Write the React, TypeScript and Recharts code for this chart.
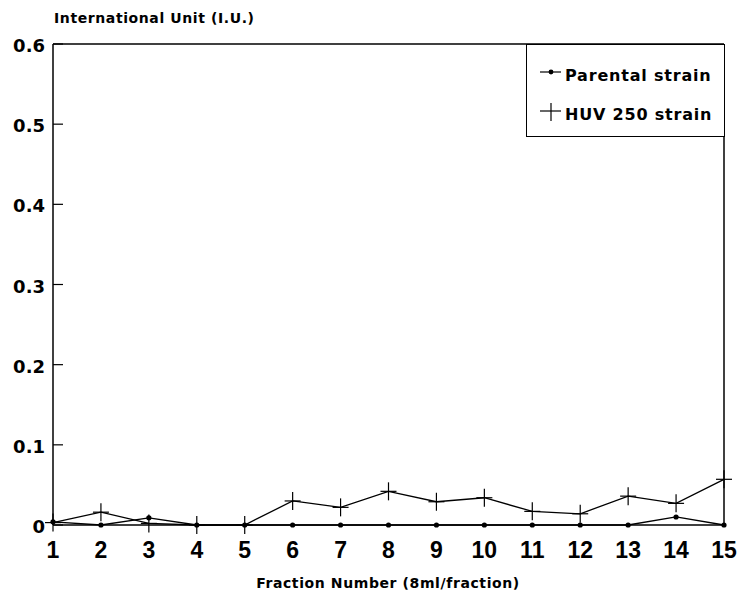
import React from "react";
import { LineChart, Line, XAxis, YAxis, ReferenceLine, Legend } from "recharts";

const fractions = [1, 2, 3, 4, 5, 6, 7, 8, 9, 10, 11, 12, 13, 14, 15];
const parental = [0.004, 0, 0.009, 0, 0, 0, 0, 0, 0, 0, 0, 0, 0, 0.01, 0];
const huv = [0.003, 0.016, 0.002, 0, 0, 0.03, 0.022, 0.042, 0.029, 0.034, 0.017, 0.014, 0.036, 0.027, 0.057];
const xTicks = [1, 2, 3, 4, 5, 6, 7, 8, 9, 10, 11, 12, 13, 14, 15];
const yTicks = [0, 0.1, 0.2, 0.3, 0.4, 0.5, 0.6];
const seriesNames = ["Parental strain", "HUV 250 strain"];
const yTitle = "International Unit (I.U.)";
const xTitle = "Fraction Number (8ml/fraction)";

const data = fractions.map((f, i) => ({ f, parental: parental[i], huv: huv[i] }));

const FONT = "'Liberation Sans', Arial, sans-serif";
const WIDE = "'DejaVu Sans', 'Liberation Sans', sans-serif";

const DotMark = (props: any) => {
  const { cx, cy } = props;
  if (cx == null || cy == null) return null;
  return <circle cx={cx} cy={cy} r={2.6} fill="#000" />;
};

const PlusMark = (props: any) => {
  const { cx, cy } = props;
  if (cx == null || cy == null) return null;
  return (
    <g stroke="#000" strokeWidth={1.2}>
      <line x1={cx - 8} x2={cx + 8} y1={cy} y2={cy} />
      <line x1={cx} x2={cx} y1={cy - 9} y2={cy + 9} />
    </g>
  );
};

const YTick = (props: any) => {
  const { x, y, payload } = props;
  const v = payload.value;
  const label = v === 0 ? "0" : v.toFixed(1);
  return (
    <g>
      <line x1={x} x2={x + 10} y1={y} y2={y} stroke="#000" strokeWidth={1.2} />
      <text x={x - 8} y={y} dy={8} textAnchor="end" fontSize={18} fontWeight="bold" fontFamily={WIDE} fill="#000">
        {label}
      </text>
    </g>
  );
};

const XTick = (props: any) => {
  const { x, y, payload } = props;
  return (
    <text x={x} y={y + 33} textAnchor="middle" fontSize={23} fontWeight="bold" fontFamily={FONT} fill="#000">
      {payload.value}
    </text>
  );
};

const LegendContent = () => (
  <div style={{ border: "1.5px solid #000", background: "#fff", height: 93, boxSizing: "border-box", paddingTop: 11, fontFamily: WIDE }}>
    {seriesNames.map((n, i) => (
      <div key={n} style={{ display: "flex", alignItems: "center", height: 39, paddingLeft: 11 }}>
        <svg width={25} height={24} style={{ marginRight: 2 }}>
          <line x1={2} x2={23} y1={8} y2={8} stroke="#000" strokeWidth={1.2} />
          {i === 0 ? (
            <circle cx={13} cy={8} r={2.4} fill="#000" />
          ) : (
            <line x1={13} x2={13} y1={0} y2={18} stroke="#000" strokeWidth={1.2} />
          )}
        </svg>
        <span style={{ fontSize: 16, fontWeight: "bold", color: "#000", letterSpacing: 0.8 }}>{n}</span>
      </div>
    ))}
  </div>
);

export default function App() {
  return (
    <div style={{ position: "absolute", left: 0, top: 0, width: 740, height: 598, background: "#fff" }}>
      <LineChart width={740} height={598} data={data} margin={{ top: 44, right: 16, bottom: 0, left: 0 }}>
        <XAxis
          dataKey="f"
          type="number"
          domain={[1, 15]}
          ticks={xTicks}
          interval={0}
          axisLine={{ stroke: "#000", strokeWidth: 1.5 }}
          tickLine={false}
          tickSize={0}
          tickMargin={0}
          height={73}
          tick={<XTick />}
          label={{
            content: (p: any) => (
              <text x={388} y={p.viewBox.y + 63} textAnchor="middle" fontSize={14} fontWeight="bold" fontFamily={WIDE} fill="#000" letterSpacing={0.6}>
                {xTitle}
              </text>
            ),
          }}
        />
        <YAxis
          type="number"
          domain={[0, 0.6]}
          ticks={yTicks}
          interval={0}
          width={53}
          axisLine={{ stroke: "#000", strokeWidth: 1.5 }}
          tickLine={false}
          tickSize={0}
          tickMargin={0}
          tick={<YTick />}
          label={{
            content: (p: any) => (
              <text x={p.viewBox.x + 54} y={p.viewBox.y - 21} fontSize={14} fontWeight="bold" fontFamily={WIDE} fill="#000" letterSpacing={0.6}>
                {yTitle}
              </text>
            ),
          }}
        />
        <ReferenceLine y={0.6} stroke="#000" strokeWidth={1.5} />
        <ReferenceLine x={15} stroke="#000" strokeWidth={1.5} />
        <Legend
          layout="vertical"
          align="center"
          verticalAlign="middle"
          content={<LegendContent />}
          wrapperStyle={{ position: "absolute", left: 526, top: 44, width: 199, height: 93 }}
        />
        <Line dataKey="huv" name={seriesNames[1]} stroke="#000" strokeWidth={1.3} dot={<PlusMark />} isAnimationActive={false} legendType="none" />
        <Line dataKey="parental" name={seriesNames[0]} stroke="#000" strokeWidth={1.3} dot={<DotMark />} isAnimationActive={false} legendType="none" />
      </LineChart>
    </div>
  );
}
